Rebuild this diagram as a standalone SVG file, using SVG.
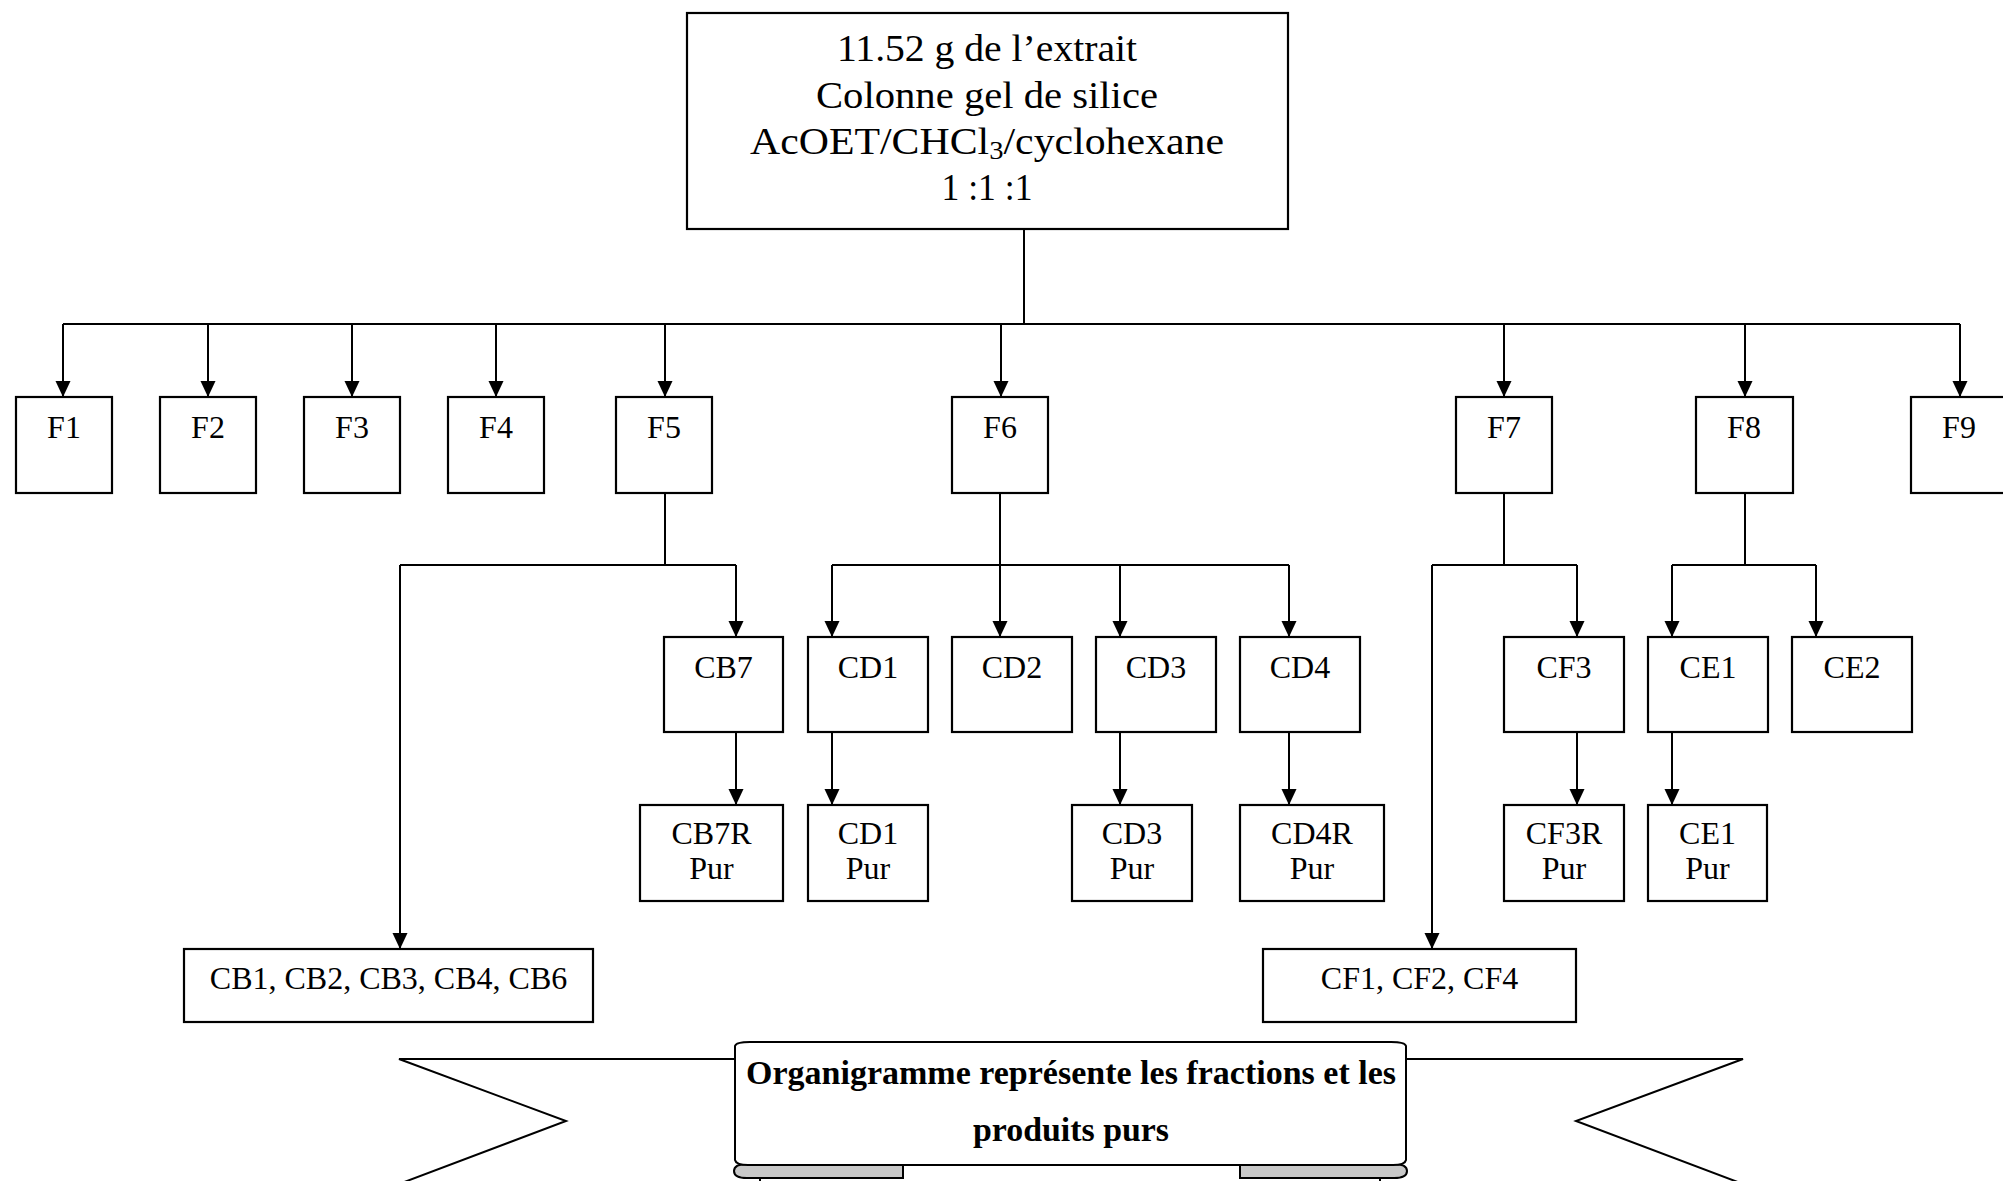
<svg xmlns="http://www.w3.org/2000/svg" width="2003" height="1181" viewBox="0 0 2003 1181">
  <style>
    .box { fill: #ffffff; stroke: #000000; stroke-width: 2.2; }
    .lbl { font-family: "Liberation Serif", "Times New Roman", serif; font-size: 32px; fill: #000000; text-anchor: middle; }
    .head { font-family: "Liberation Serif", "Times New Roman", serif; font-size: 38px; fill: #000000; text-anchor: middle; }
    .ban { font-family: "Liberation Serif", "Times New Roman", serif; font-size: 34px; font-weight: bold; fill: #000000; text-anchor: middle; }
    .wire { fill: none; stroke: #000000; stroke-width: 2; }
    .arrow { fill: none; stroke: #000000; stroke-width: 2; marker-end: url(#tip); }
    .ribbon { fill: #ffffff; stroke: #000000; stroke-width: 2; stroke-linejoin: miter; }
    .fold { fill: #c8c8c8; stroke: #000000; stroke-width: 2; }
  </style>
  <defs>
    <marker id="tip" markerUnits="userSpaceOnUse" markerWidth="15" markerHeight="16" refX="16" refY="7.5" orient="auto">
      <path d="M0,0 L16,7.5 L0,15 Z" fill="#000000"/>
    </marker>
  </defs>

  <rect width="2003" height="1181" fill="#ffffff"/>

  <!-- connectors -->
  <g id="connectors">
    <!-- root to fractions -->
    <path class="wire" d="M1024,229 V324"/>
    <path class="wire" d="M63,324 H1960"/>
    <path class="arrow" d="M63,324 V397"/>
    <path class="arrow" d="M208,324 V397"/>
    <path class="arrow" d="M352,324 V397"/>
    <path class="arrow" d="M496,324 V397"/>
    <path class="arrow" d="M665,324 V397"/>
    <path class="arrow" d="M1001,324 V397"/>
    <path class="arrow" d="M1504,324 V397"/>
    <path class="arrow" d="M1745,324 V397"/>
    <path class="arrow" d="M1960,324 V397"/>

    <!-- F5 -->
    <path class="wire" d="M665,493 V565"/>
    <path class="wire" d="M400,565 H736"/>
    <path class="arrow" d="M736,565 V637"/>
    <path class="arrow" d="M400,565 V949"/>

    <!-- F6 -->
    <path class="arrow" d="M1000,493 V637"/>
    <path class="wire" d="M832,565 H1289"/>
    <path class="arrow" d="M832,565 V637"/>
    <path class="arrow" d="M1120,565 V637"/>
    <path class="arrow" d="M1289,565 V637"/>

    <!-- F7 -->
    <path class="wire" d="M1504,493 V565"/>
    <path class="wire" d="M1432,565 H1577"/>
    <path class="arrow" d="M1577,565 V637"/>
    <path class="arrow" d="M1432,565 V949"/>

    <!-- F8 -->
    <path class="wire" d="M1745,493 V565"/>
    <path class="wire" d="M1672,565 H1816"/>
    <path class="arrow" d="M1672,565 V637"/>
    <path class="arrow" d="M1816,565 V637"/>

    <!-- to pure products -->
    <path class="arrow" d="M736,732 V805"/>
    <path class="arrow" d="M832,732 V805"/>
    <path class="arrow" d="M1120,732 V805"/>
    <path class="arrow" d="M1289,732 V805"/>
    <path class="arrow" d="M1577,732 V805"/>
    <path class="arrow" d="M1672,732 V805"/>
  </g>

  <!-- root -->
  <g id="extrait">
    <rect class="box" x="687" y="13" width="601" height="216"/>
    <text class="head" x="987" y="61" textLength="300" lengthAdjust="spacingAndGlyphs">11.52 g de l’extrait</text>
    <text class="head" x="987" y="108" textLength="342" lengthAdjust="spacingAndGlyphs">Colonne gel de silice</text>
    <text class="head" x="987" y="154" textLength="474" lengthAdjust="spacingAndGlyphs">AcOET/CHCl<tspan font-size="26" dy="5">3</tspan><tspan dy="-5">/cyclohexane</tspan></text>
    <text class="head" x="987" y="200" textLength="91" lengthAdjust="spacingAndGlyphs">1 :1 :1</text>
  </g>

  <!-- fractions -->
  <g id="F1"><rect class="box" x="16" y="397" width="96" height="96"/><text class="lbl" x="64" y="438">F1</text></g>
  <g id="F2"><rect class="box" x="160" y="397" width="96" height="96"/><text class="lbl" x="208" y="438">F2</text></g>
  <g id="F3"><rect class="box" x="304" y="397" width="96" height="96"/><text class="lbl" x="352" y="438">F3</text></g>
  <g id="F4"><rect class="box" x="448" y="397" width="96" height="96"/><text class="lbl" x="496" y="438">F4</text></g>
  <g id="F5"><rect class="box" x="616" y="397" width="96" height="96"/><text class="lbl" x="664" y="438">F5</text></g>
  <g id="F6"><rect class="box" x="952" y="397" width="96" height="96"/><text class="lbl" x="1000" y="438">F6</text></g>
  <g id="F7"><rect class="box" x="1456" y="397" width="96" height="96"/><text class="lbl" x="1504" y="438">F7</text></g>
  <g id="F8"><rect class="box" x="1696" y="397" width="97" height="96"/><text class="lbl" x="1744" y="438">F8</text></g>
  <g id="F9"><rect class="box" x="1911" y="397" width="98" height="96"/><text class="lbl" x="1959" y="438">F9</text></g>

  <!-- sub-fractions -->
  <g id="CB7"><rect class="box" x="664" y="637" width="119" height="95"/><text class="lbl" x="723.5" y="678">CB7</text></g>
  <g id="CD1"><rect class="box" x="808" y="637" width="120" height="95"/><text class="lbl" x="868" y="678">CD1</text></g>
  <g id="CD2"><rect class="box" x="952" y="637" width="120" height="95"/><text class="lbl" x="1012" y="678">CD2</text></g>
  <g id="CD3"><rect class="box" x="1096" y="637" width="120" height="95"/><text class="lbl" x="1156" y="678">CD3</text></g>
  <g id="CD4"><rect class="box" x="1240" y="637" width="120" height="95"/><text class="lbl" x="1300" y="678">CD4</text></g>
  <g id="CF3"><rect class="box" x="1504" y="637" width="120" height="95"/><text class="lbl" x="1564" y="678">CF3</text></g>
  <g id="CE1"><rect class="box" x="1648" y="637" width="120" height="95"/><text class="lbl" x="1708" y="678">CE1</text></g>
  <g id="CE2"><rect class="box" x="1792" y="637" width="120" height="95"/><text class="lbl" x="1852" y="678">CE2</text></g>

  <!-- pure products -->
  <g id="CB7R"><rect class="box" x="640" y="805" width="143" height="96"/><text class="lbl" x="711.5" y="844">CB7R</text><text class="lbl" x="711.5" y="879">Pur</text></g>
  <g id="CD1-pur"><rect class="box" x="808" y="805" width="120" height="96"/><text class="lbl" x="868" y="844">CD1</text><text class="lbl" x="868" y="879">Pur</text></g>
  <g id="CD3-pur"><rect class="box" x="1072" y="805" width="120" height="96"/><text class="lbl" x="1132" y="844">CD3</text><text class="lbl" x="1132" y="879">Pur</text></g>
  <g id="CD4R"><rect class="box" x="1240" y="805" width="144" height="96"/><text class="lbl" x="1312" y="844">CD4R</text><text class="lbl" x="1312" y="879">Pur</text></g>
  <g id="CF3R"><rect class="box" x="1504" y="805" width="120" height="96"/><text class="lbl" x="1564" y="844">CF3R</text><text class="lbl" x="1564" y="879">Pur</text></g>
  <g id="CE1-pur"><rect class="box" x="1648" y="805" width="119" height="96"/><text class="lbl" x="1707.5" y="844">CE1</text><text class="lbl" x="1707.5" y="879">Pur</text></g>

  <!-- grouped remaining fractions -->
  <g id="CB-group"><rect class="box" x="184" y="949" width="409" height="73"/><text class="lbl" x="388.5" y="989">CB1, CB2, CB3, CB4, CB6</text></g>
  <g id="CF-group"><rect class="box" x="1263" y="949" width="313" height="73"/><text class="lbl" x="1419.5" y="989">CF1, CF2, CF4</text></g>

  <!-- title ribbon -->
  <g id="title-ribbon">
    <path class="ribbon" d="M760,1059 H399 L566,1121 L399,1184 H760 Z"/>
    <path class="ribbon" d="M1380,1059 H1743 L1576,1121 L1743,1184 H1380 Z"/>
    <path class="fold" d="M903,1160 V1178 H747 Q734,1178 734,1171 Q734,1164 747,1164 Z"/>
    <path class="fold" d="M1240,1160 V1178 H1394 Q1407,1178 1407,1171 Q1407,1164 1394,1164 Z"/>
    <path class="ribbon" d="M735,1046 Q736,1042 750,1042 H1391 Q1405,1042 1406,1046 V1160 Q1405,1165 1393,1165 H748 Q736,1165 735,1160 Z"/>
    <text class="ban" x="1071" y="1084" textLength="650" lengthAdjust="spacingAndGlyphs">Organigramme représente les fractions et les</text>
    <text class="ban" x="1071" y="1141" textLength="196" lengthAdjust="spacingAndGlyphs">produits purs</text>
  </g>
</svg>
